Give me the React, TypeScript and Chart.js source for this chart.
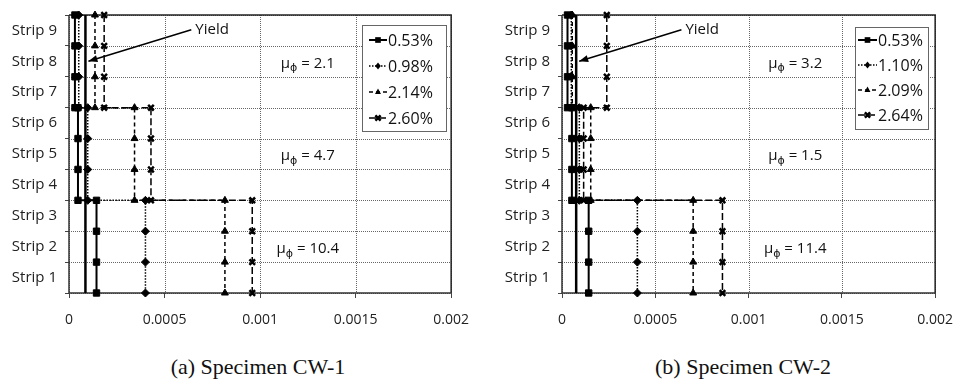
import React, { useEffect, useRef } from "react";
import { Chart, registerables } from "chart.js";

Chart.register(...registerables);

// ---------- data ----------
const stripLabels = ["Strip 1", "Strip 2", "Strip 3", "Strip 4", "Strip 5", "Strip 6", "Strip 7", "Strip 8", "Strip 9"];
const xTickValues = [0, 0.0005, 0.001, 0.0015, 0.002];
const xTickLabels = ["0", "0.0005", "0.001", "0.0015", "0.002"];
const stripBoundaries = [0, 1, 2, 3, 4, 5, 6, 7, 8, 9];
// strip boundaries of each group (strips 7-9, strips 4-6, strips 1-3)
const groupBoundaries = [
  [9, 8, 7, 6],
  [6, 5, 4, 3],
  [3, 2, 1, 0],
];

// Specimen CW-1: curvature per group [strips 7-9, strips 4-6, strips 1-3]
const cw1Labels = ["0.53%", "0.98%", "2.14%", "2.60%"];
const cw1Drift053 = [3.1e-5, 4.7e-5, 1.44e-4];
const cw1Drift098 = [5.1e-5, 9.8e-5, 4.0e-4];
const cw1Drift214 = [1.36e-4, 3.43e-4, 8.16e-4];
const cw1Drift260 = [1.84e-4, 4.29e-4, 9.59e-4];
const cw1Yield = 8.6e-5;
const cw1Mu = ["2.1", "4.7", "10.4"];

// Specimen CW-2
const cw2Labels = ["0.53%", "1.10%", "2.09%", "2.64%"];
const cw2Drift053 = [2.95e-5, 5.3e-5, 1.43e-4];
const cw2Drift110 = [5.0e-5, 9.3e-5, 4.04e-4];
const cw2Drift209 = [5.5e-5, 1.54e-4, 7.03e-4];
const cw2Drift264 = [2.4e-4, 1.16e-4, 8.6e-4];
const cw2Yield = 7.6e-5;
const cw2Mu = ["3.2", "1.5", "11.4"];

const muStripCentres = [7.5, 4.5, 1.5];
const muX = 0.00125;
const yieldLabelPos = { x: 0.00064, y: 8.52 };

// ---------- styles ----------
const seriesStyles = [
  { dash: [] as number[], width: 2, marker: "rect", radius: 4.5, pbw: 1 },
  { dash: [1.5, 1.5], width: 1.5, marker: "rectRot", radius: 4, pbw: 1 },
  { dash: [4, 3], width: 1.5, marker: "triangle", radius: 4, pbw: 1 },
  { dash: [7, 3], width: 1.5, marker: "crossRot", radius: 4, pbw: 2.5 },
];

const FONT = '"Open Sans", "DejaVu Sans", sans-serif';

function buildPoints(values: number[]) {
  const pts: { x: number; y: number }[] = [];
  groupBoundaries.forEach((g, i) => g.forEach((y) => pts.push({ x: values[i], y })));
  return pts;
}

function drawMarker(ctx: CanvasRenderingContext2D, kind: string, x: number, y: number, r: number, lw: number) {
  ctx.save();
  ctx.setLineDash([]);
  ctx.fillStyle = "#000";
  ctx.strokeStyle = "#000";
  ctx.lineWidth = lw;
  ctx.beginPath();
  if (kind === "rect") {
    const s = r * Math.SQRT1_2;
    ctx.rect(x - s, y - s, 2 * s, 2 * s);
    ctx.fill();
  } else if (kind === "rectRot") {
    ctx.moveTo(x, y - r);
    ctx.lineTo(x + r * 0.8, y);
    ctx.lineTo(x, y + r);
    ctx.lineTo(x - r * 0.8, y);
    ctx.closePath();
    ctx.fill();
  } else if (kind === "triangle") {
    ctx.moveTo(x, y - r);
    ctx.lineTo(x + r * 0.85, y + r * 0.6);
    ctx.lineTo(x - r * 0.85, y + r * 0.6);
    ctx.closePath();
    ctx.fill();
  } else {
    const s = r * 0.75;
    ctx.moveTo(x - s, y - s);
    ctx.lineTo(x + s, y + s);
    ctx.moveTo(x + s, y - s);
    ctx.lineTo(x - s, y + s);
    ctx.stroke();
  }
  ctx.restore();
}

type LegendCfg = { right: number; top: number; w: number; h: number; first: number; gap: number; sx: number; sw: number; tx: number };

type PanelCfg = {
  series: number[][];
  labels: string[];
  yieldV: number;
  mu: string[];
  padRight: number;
  labelAxisWidth: number;
  legend: LegendCfg;
};

function makeOverlay(cfg: PanelCfg) {
  return {
    id: "overlay",
    beforeDatasetsDraw(chart: any) {
      const { ctx, chartArea: a } = chart;
      const xs = chart.scales.x;
      const ys = chart.scales.y;
      ctx.save();
      // dotted grid
      ctx.strokeStyle = "#666";
      ctx.lineWidth = 1;
      ctx.setLineDash([1, 1]);
      ctx.beginPath();
      xTickValues.forEach((v) => {
        const px = Math.round(xs.getPixelForValue(v)) + 0.5;
        ctx.moveTo(px, a.top);
        ctx.lineTo(px, a.bottom);
      });
      stripBoundaries.forEach((v) => {
        const py = Math.round(ys.getPixelForValue(v)) + 0.5;
        ctx.moveTo(a.left, py);
        ctx.lineTo(a.right, py);
      });
      ctx.stroke();
      ctx.setLineDash([]);
      // frame
      ctx.strokeStyle = "#222";
      ctx.lineWidth = 1.5;
      ctx.beginPath();
      ctx.moveTo(a.left, a.top);
      ctx.lineTo(a.right, a.top);
      ctx.lineTo(a.right, a.bottom);
      ctx.stroke();
      ctx.strokeStyle = "#333";
      ctx.lineWidth = 1.5;
      ctx.beginPath();
      ctx.moveTo(a.left, a.top);
      ctx.lineTo(a.left, a.bottom);
      ctx.lineTo(a.right, a.bottom);
      ctx.stroke();
      ctx.restore();
    },
    afterDatasetsDraw(chart: any) {
      const { ctx, chartArea: a } = chart;
      const xs = chart.scales.x;
      const ys = chart.scales.y;
      ctx.save();
      // legend
      const L = cfg.legend;
      const bx = Math.round(a.right - L.right - L.w);
      const by = Math.round(a.top + L.top);
      ctx.fillStyle = "#fff";
      ctx.fillRect(bx, by, L.w, L.h);
      ctx.strokeStyle = "#666";
      ctx.lineWidth = 1;
      ctx.strokeRect(bx + 0.5, by + 0.5, L.w, L.h);
      ctx.font = `16px ${FONT}`;
      ctx.textBaseline = "middle";
      ctx.textAlign = "left";
      cfg.labels.forEach((lab, i) => {
        const st = seriesStyles[i];
        const y = by + L.first + i * L.gap;
        const x1 = bx + L.sx;
        const x2 = x1 + L.sw;
        ctx.save();
        ctx.setLineDash(st.dash);
        ctx.lineWidth = st.width;
        ctx.strokeStyle = "#000";
        ctx.beginPath();
        ctx.moveTo(x1, y);
        ctx.lineTo(x2, y);
        ctx.stroke();
        ctx.restore();
        drawMarker(ctx, st.marker, (x1 + x2) / 2, y, st.radius - 0.5, st.pbw);
        ctx.fillStyle = "#111";
        ctx.fillText(lab, bx + L.tx, y + 1);
      });
      // mu annotations
      cfg.mu.forEach((val, i) => {
        const cx = xs.getPixelForValue(muX);
        const cy = ys.getPixelForValue(muStripCentres[i]) + 2;
        ctx.font = `15px ${FONT}`;
        const w1 = ctx.measureText("μ").width;
        const rest = " = " + val;
        const w3 = ctx.measureText(rest).width;
        ctx.font = `11px ${FONT}`;
        const w2 = ctx.measureText("ϕ").width;
        const start = cx - (w1 + w2 + w3) / 2;
        ctx.fillStyle = "#111";
        ctx.textBaseline = "middle";
        ctx.font = `15px ${FONT}`;
        ctx.fillText("μ", start, cy);
        ctx.font = `11px ${FONT}`;
        ctx.fillText("ϕ", start + w1, cy + 5);
        ctx.font = `15px ${FONT}`;
        ctx.fillText(rest, start + w1 + w2, cy);
      });
      // yield arrow
      const x0 = xs.getPixelForValue(yieldLabelPos.x);
      const y0 = ys.getPixelForValue(yieldLabelPos.y);
      const x1 = xs.getPixelForValue(cfg.yieldV) + 3;
      const y1 = ys.getPixelForValue(7.5);
      ctx.strokeStyle = "#000";
      ctx.lineWidth = 1.5;
      ctx.beginPath();
      ctx.moveTo(x0, y0);
      ctx.lineTo(x1, y1);
      ctx.stroke();
      const ang = Math.atan2(y1 - y0, x1 - x0);
      const hl = 9;
      const hw = 3.5;
      ctx.fillStyle = "#000";
      ctx.beginPath();
      ctx.moveTo(x1, y1);
      ctx.lineTo(x1 - hl * Math.cos(ang) + hw * Math.sin(ang), y1 - hl * Math.sin(ang) - hw * Math.cos(ang));
      ctx.lineTo(x1 - hl * Math.cos(ang) - hw * Math.sin(ang), y1 - hl * Math.sin(ang) + hw * Math.cos(ang));
      ctx.closePath();
      ctx.fill();
      ctx.font = `15px ${FONT}`;
      ctx.fillStyle = "#111";
      ctx.textBaseline = "middle";
      ctx.fillText("Yield", x0 + 4, y0);
      ctx.restore();
    },
  };
}

function PanelChart({ cfg, width, height }: { cfg: PanelCfg; width: number; height: number }) {
  const ref = useRef<HTMLCanvasElement>(null);
  useEffect(() => {
    if (!ref.current) return;
    const datasets: any[] = cfg.series.map((vals, i) => {
      const st = seriesStyles[i];
      return {
        label: cfg.labels[i],
        data: buildPoints(vals),
        showLine: true,
        borderColor: "#000",
        backgroundColor: "#000",
        borderWidth: st.width,
        borderDash: st.dash,
        pointStyle: st.marker,
        pointRadius: st.radius,
        pointBorderWidth: st.pbw,
        pointBorderColor: "#000",
        pointBackgroundColor: "#000",
        clip: false,
        tension: 0,
      };
    });
    datasets.push({
      label: "Yield",
      data: [
        { x: cfg.yieldV, y: 0 },
        { x: cfg.yieldV, y: 9 },
      ],
      showLine: true,
      borderColor: "#000",
      borderWidth: 2.5,
      pointRadius: 0,
      clip: false,
    });
    const chart = new Chart(ref.current, {
      type: "scatter",
      data: { datasets },
      options: {
        animation: false,
        responsive: false,
        events: [],
        layout: { padding: { top: 13, right: cfg.padRight, left: 0, bottom: 0 } },
        plugins: { legend: { display: false }, tooltip: { enabled: false } },
        scales: {
          x: {
            type: "linear",
            min: 0,
            max: 0.002,
            afterBuildTicks: (s: any) => {
              s.ticks = xTickValues.map((v) => ({ value: v }));
            },
            afterFit: (s: any) => {
              s.height = 47;
            },
            ticks: {
              autoSkip: false,
              maxRotation: 0,
              padding: 14,
              color: "#222",
              font: { family: FONT, size: 14 },
              callback: (_v: any, i: number) => xTickLabels[i],
            },
            grid: { drawOnChartArea: false, color: "#444", lineWidth: 1, tickLength: 5 },
            border: { display: false },
          },
          y: {
            type: "linear",
            position: "left",
            weight: 0,
            min: 0,
            max: 9,
            afterBuildTicks: (s: any) => {
              s.ticks = stripBoundaries.map((v) => ({ value: v }));
            },
            afterFit: (s: any) => {
              s.width = 6;
            },
            ticks: { display: false },
            grid: { drawOnChartArea: false, color: "#444", lineWidth: 1, tickLength: 4 },
            border: { display: false },
          },
          ylab: {
            type: "linear",
            position: "left",
            weight: 1,
            min: 0,
            max: 9,
            afterBuildTicks: (s: any) => {
              s.ticks = stripLabels.map((_, i) => ({ value: i + 0.5 }));
            },
            afterFit: (s: any) => {
              s.width = cfg.labelAxisWidth;
            },
            ticks: {
              autoSkip: false,
              padding: 6,
              color: "#222",
              font: { family: FONT, size: 15 },
              callback: (v: any) => stripLabels[Math.round(Number(v) - 0.5)],
            },
            grid: { display: false, drawTicks: false },
            border: { display: false },
          },
        },
      } as any,
      plugins: [makeOverlay(cfg)],
    });
    return () => chart.destroy();
  }, [cfg]);
  return <canvas ref={ref} width={width} height={height} style={{ width, height, display: "block" }} />;
}

const cw1Cfg: PanelCfg = {
  series: [cw1Drift053, cw1Drift098, cw1Drift214, cw1Drift260],
  labels: cw1Labels,
  yieldV: cw1Yield,
  mu: cw1Mu,
  padRight: 21,
  labelAxisWidth: 63,
  legend: { right: 5, top: 10, w: 84, h: 106, first: 15, gap: 26, sx: 7, sw: 18, tx: 26 },
};

const cw2Cfg: PanelCfg = {
  series: [cw2Drift053, cw2Drift110, cw2Drift209, cw2Drift264],
  labels: cw2Labels,
  yieldV: cw2Yield,
  mu: cw2Mu,
  padRight: 19,
  labelAxisWidth: 73,
  legend: { right: 7, top: 12, w: 73, h: 102, first: 13, gap: 25, sx: 3, sw: 19, tx: 23 },
};

const captionStyle: React.CSSProperties = {
  position: "absolute",
  top: 355,
  width: 300,
  textAlign: "center",
  fontFamily: '"Liberation Serif", "Times New Roman", serif',
  fontSize: 22,
  lineHeight: "24px",
  color: "#111",
};

export default function App() {
  return (
    <div style={{ position: "absolute", left: 0, top: 0, width: 967, height: 385, background: "#fff", overflow: "hidden" }}>
      <div style={{ position: "absolute", left: 0, top: 0 }}>
        <PanelChart cfg={cw1Cfg} width={483} height={340} />
      </div>
      <div style={{ position: "absolute", left: 483, top: 0 }}>
        <PanelChart cfg={cw2Cfg} width={484} height={340} />
      </div>
      <div style={{ ...captionStyle, left: 258 - 150 }}>(a) Specimen CW-1</div>
      <div style={{ ...captionStyle, left: 743 - 150 }}>(b) Specimen CW-2</div>
    </div>
  );
}
